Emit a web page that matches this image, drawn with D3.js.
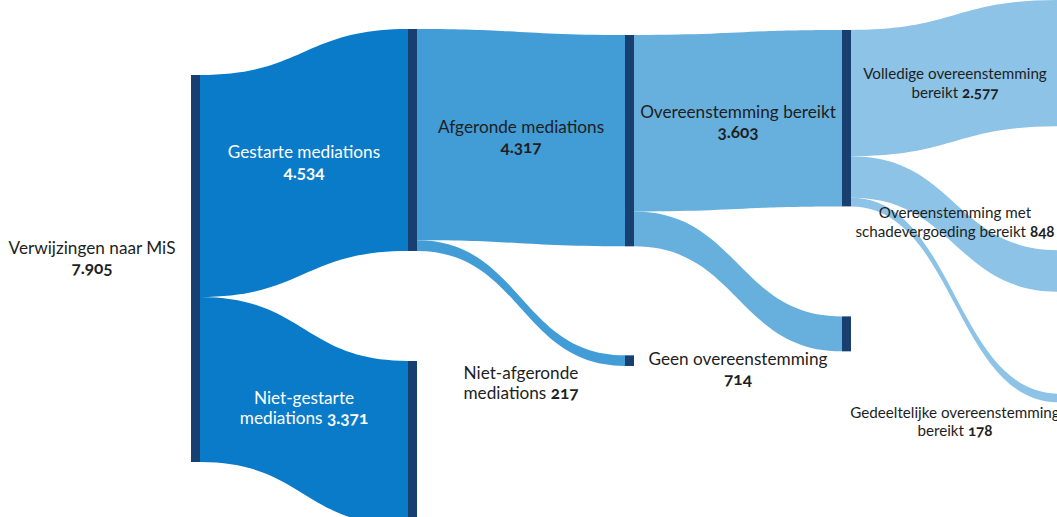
<!doctype html>
<html lang="nl">
<head>
<meta charset="utf-8">
<title>Mediation in strafzaken</title>
<script src="https://cdn.jsdelivr.net/npm/d3@7"></script>
<style>
  html, body { margin: 0; padding: 0; background: #fff; }
  svg { display: block; overflow: hidden; }
  text {
    font-family: Lato, "Noto Sans", sans-serif;
    font-size: 17.2px;
    font-variant-numeric: oldstyle-nums;
    text-anchor: middle;
    fill: #1e1e1e;
  }
  text.small { font-size: 15.2px; }
  text.light { fill: #fff; }
  tspan.num { font-weight: 700; }
</style>
</head>
<body>
<svg width="1057" height="517"></svg>
<script>
// data
const nodeNames = ["Verwijzingen naar MiS", "Gestarte mediations", "Niet-gestarte mediations",
  "Afgeronde mediations", "Niet-afgeronde mediations", "Overeenstemming bereikt",
  "Geen overeenstemming", "Volledige overeenstemming bereikt",
  "Overeenstemming met schadevergoeding bereikt", "Gedeeltelijke overeenstemming bereikt"];
const nodeValues = [7905, 4534, 3371, 4317, 217, 3603, 714, 2577, 848, 178];
const nodeColumns = [0, 1, 1, 2, 2, 3, 3, 4, 4, 4];
const labelLines = [
  ["Verwijzingen naar MiS", ""], ["Gestarte mediations", ""], ["Niet-gestarte", "mediations"],
  ["Afgeronde mediations", ""], ["Niet-afgeronde", "mediations"], ["Overeenstemming bereikt", ""],
  ["Geen overeenstemming", ""], ["Volledige overeenstemming", "bereikt"],
  ["Overeenstemming met", "schadevergoeding bereikt"], ["Gedeeltelijke overeenstemming", "bereikt"]];
const linkSource = [0, 0, 1, 1, 3, 3, 5, 5, 5];
const linkTarget = [1, 2, 3, 4, 5, 6, 7, 8, 9];
const linkValues = [4534, 3371, 4317, 217, 3603, 714, 2577, 848, 178];

// layout
const W = 1057, H = 517, nodeW = 9;
const colTop = [75, 29, 35, 30, 0];
const colGaps = [[], [110], [109], [110], [124, 102]];
const linkColors = ["#0a7bc8", "#429cd6", "#67afdc", "#8cc3e7"];
const nodeColor = "#173f6f";
const labelMode = ["left", "mid", "mid", "mid", "below", "mid", "below", "mid", "mid", "below"];
const labelDy = [0, 0, -3, 0, 0, 2, 0, 5, -2, 2];

const fmt = d3.formatLocale({decimal: ",", thousands: ".", grouping: [3], currency: ["€", ""]}).format(",");
const x = d3.scaleLinear().domain([0, 4]).range([191, 1059]);
const h = d3.scaleLinear().domain([0, d3.max(nodeValues)]).range([0, 387]);

const nodes = nodeNames.map((name, i) => ({name, value: nodeValues[i], col: nodeColumns[i], i}));
d3.groups(nodes, d => d.col).forEach(([col, list]) => {
  let y = colTop[col];
  list.forEach((n, k) => {
    if (k > 0) y += colGaps[col][k - 1];
    n.x0 = x(col); n.x1 = n.x0 + nodeW;
    n.y0 = y; n.y1 = y + h(n.value);
    n.out = n.y0; n.in = n.y0;
    y = n.y1;
  });
});

const links = linkSource.map((s, i) => {
  const src = nodes[s], tgt = nodes[linkTarget[i]], w = h(linkValues[i]);
  const l = {src, tgt, sy0: src.out, sy1: src.out + w, ty0: tgt.in, ty1: tgt.in + w};
  src.out += w; tgt.in += w;
  return l;
});

function band(l) {
  const x0 = l.src.x1, x1 = l.tgt.x0, xm = (x0 + x1) / 2;
  const p = d3.path();
  p.moveTo(x0, l.sy0);
  p.bezierCurveTo(xm, l.sy0, xm, l.ty0, x1, l.ty0);
  p.lineTo(x1, l.ty1);
  p.bezierCurveTo(xm, l.ty1, xm, l.sy1, x0, l.sy1);
  p.closePath();
  return p.toString();
}

const svg = d3.select("svg");

svg.append("g").selectAll("path")
  .data(links)
  .enter().append("path")
    .attr("d", band)
    .attr("fill", d => linkColors[d.src.col]);

svg.append("g").selectAll("rect")
  .data(nodes)
  .enter().append("rect")
    .attr("x", d => d.x0)
    .attr("y", d => d.y0)
    .attr("width", nodeW)
    .attr("height", d => d.y1 - d.y0)
    .attr("fill", nodeColor);

// label position per node
nodes.forEach(n => {
  const inc = links.find(l => l.tgt === n);
  n.lh = n.col === 4 ? 18.5 : 20;
  if (labelMode[n.i] === "left") {
    n.lx = n.x0 - 99; n.ly = (n.y0 + n.y1) / 2 - 10;
  } else if (labelMode[n.i] === "mid") {
    n.lx = (inc.src.x1 + n.x0) / 2;
    n.ly = (inc.sy0 + inc.sy1 + inc.ty0 + inc.ty1) / 4;
  } else {
    n.lx = (inc.src.x1 + n.x0) / 2;
    n.ly = n.y1 + 8 + n.lh / 2;
  }
  n.ly += labelDy[n.i];
});

const labels = svg.append("g").selectAll("text")
  .data(nodes)
  .enter().append("text")
    .attr("class", d => (d.col === 1 ? "light" : "") + (d.col === 4 ? " small" : ""))
    .attr("x", d => d.lx)
    .attr("y", d => d.ly - d.lh / 2 + 5.5);

labels.each(function(d) {
  const t = d3.select(this);
  const lines = labelLines[d.i];
  lines.forEach((ln, k) => {
    const ts = t.append("tspan").attr("x", d.lx).attr("dy", k === 0 ? 0 : d.lh);
    if (k < lines.length - 1) { ts.text(ln); return; }
    if (ln) ts.append("tspan").text(ln + " ");
    ts.append("tspan").attr("class", "num").text(fmt(d.value));
  });
});
</script>
</body>
</html>
